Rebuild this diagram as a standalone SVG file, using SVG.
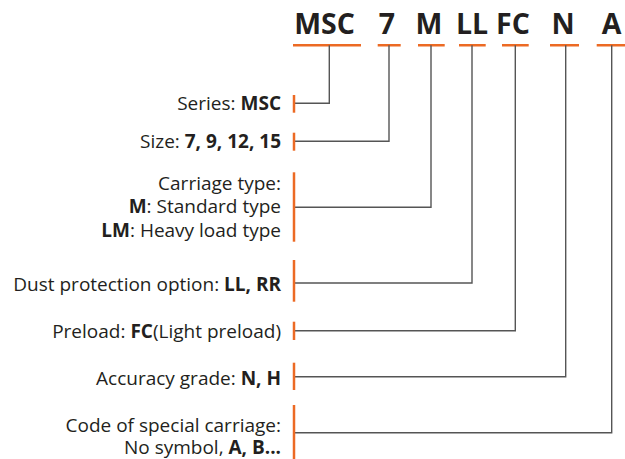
<svg xmlns="http://www.w3.org/2000/svg" width="625" height="459" viewBox="0 0 625 459">
<style>
.code{font-family:"Open Sans","Liberation Sans",sans-serif;font-weight:700;font-size:28.5px;fill:#231f20;text-anchor:middle}
.lbl{font-family:"Open Sans","Liberation Sans",sans-serif;font-size:19px;fill:#231f20;text-anchor:end}
.b{font-weight:700}
.or{stroke:#ec6a24;stroke-width:2.5;fill:none}
.cn{stroke:#555;stroke-width:1.4;fill:none}
</style>
<rect width="625" height="459" fill="#fff"/>
<g id="code">
<text class="code" x="324.5" y="34">MSC</text>
<text class="code" x="387" y="34">7</text>
<text class="code" x="429" y="34">M</text>
<text class="code" x="472" y="34">LL</text>
<text class="code" x="513" y="34">FC</text>
<text class="code" x="563" y="34">N</text>
<text class="code" x="611.7" y="34">A</text>
<path class="or" d="M293 45.3H361M377.7 45.3H400.7M418 45.3H444.7M459 45.3H485.7M502 45.3H528.7M550 45.3H579M596.7 45.3H625"/>
</g>
<g id="connectors">
<path class="cn" d="M329.3 45.3V103.3H294"/>
<path class="cn" d="M389 45.3V141.3H294"/>
<path class="cn" d="M431 45.3V207.3H294"/>
<path class="cn" d="M472 45.3V283H294"/>
<path class="cn" d="M515.3 45.3V330.7H294"/>
<path class="cn" d="M565.7 45.3V376.7H294"/>
<path class="cn" d="M611.7 45.3V432.7H294"/>
</g>
<g id="series">
<path class="or" d="M294 95V112.7"/>
<text class="lbl" x="281" y="110">Series: <tspan class="b">MSC</tspan></text>
</g>
<g id="size">
<path class="or" d="M294 132.7V150.7"/>
<text class="lbl" x="281" y="148">Size: <tspan class="b">7, 9, 12, 15</tspan></text>
</g>
<g id="carriage">
<path class="or" d="M294 172.3V241.7"/>
<text class="lbl" x="281" y="190">Carriage type:<tspan x="281" dy="23"><tspan class="b">M</tspan>: Standard type</tspan><tspan x="281" dy="23.5"><tspan class="b">LM</tspan>: Heavy load type</tspan></text>
</g>
<g id="dust">
<path class="or" d="M294 260V301.7"/>
<text class="lbl" x="281" y="290.7">Dust protection option: <tspan class="b">LL, RR</tspan></text>
</g>
<g id="preload">
<path class="or" d="M294 321.7V340"/>
<text class="lbl" x="281" y="338">Preload: <tspan class="b">FC</tspan>(Light preload)</text>
</g>
<g id="accuracy">
<path class="or" d="M294 362.7V390"/>
<text class="lbl" x="281" y="385">Accuracy grade: <tspan class="b">N, H</tspan></text>
</g>
<g id="special">
<path class="or" d="M294 405V459"/>
<text class="lbl" x="281" y="431.7">Code of special carriage:<tspan x="281" dy="21.8">No symbol, <tspan class="b">A, B...</tspan></tspan></text>
</g>
</svg>
